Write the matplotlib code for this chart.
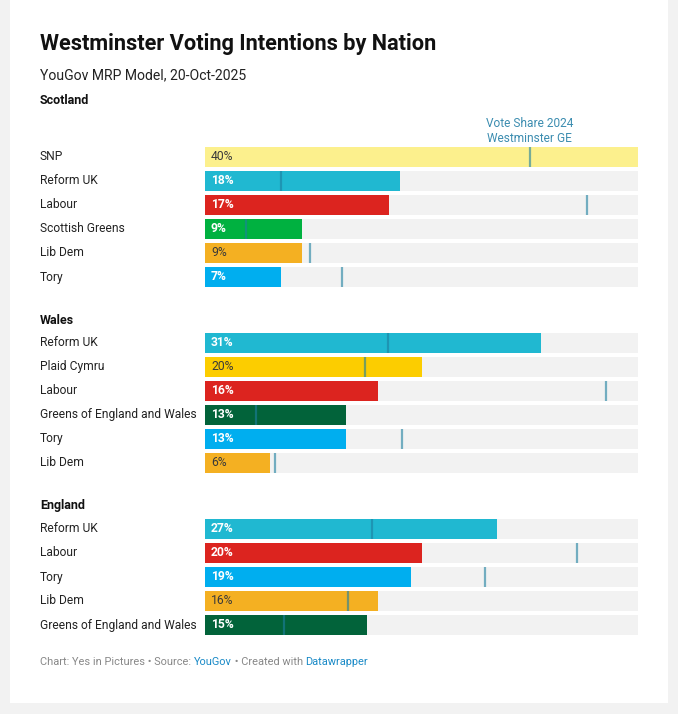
import matplotlib.pyplot as plt
from matplotlib.patches import Rectangle

plt.rcParams['font.family'] = ['Roboto', 'DejaVu Sans']

# ____________________________________________________________ DATA
scot_parties = ['SNP', 'Reform UK', 'Labour', 'Scottish Greens', 'Lib Dem', 'Tory']
scot_mrp = [40, 18, 17, 9, 9, 7]
scot_ge24 = [30.0, 7.0, 35.3, 3.8, 9.7, 12.7]

wales_parties = ['Reform UK', 'Plaid Cymru', 'Labour', 'Greens of England and Wales', 'Tory', 'Lib Dem']
wales_mrp = [31, 20, 16, 13, 13, 6]
wales_ge24 = [16.9, 14.8, 37.0, 4.7, 18.2, 6.5]

eng_parties = ['Reform UK', 'Labour', 'Tory', 'Lib Dem', 'Greens of England and Wales']
eng_mrp = [27, 20, 19, 16, 15]
eng_ge24 = [15.4, 34.4, 25.9, 13.2, 7.3]

cores = {
    'SNP': '#fcf08d',
    'Reform UK': '#20b8d1',
    'Labour': '#dc241f',
    'Scottish Greens': '#00b140',
    'Lib Dem': '#f4b022',
    'Tory': '#00aeef',
    'Plaid Cymru': '#fccd00',
    'Greens of England and Wales': '#02633a',
}
texto_escuro = ['SNP', 'Lib Dem', 'Plaid Cymru']

W, H = 678, 714
fig = plt.figure(figsize=(W / 100, H / 100), dpi=100)
fig.patch.set_facecolor('#f2f2f2')
fig.patches.append(Rectangle((10 / W, 1 - 703 / H), 658 / W, 703 / H,
                             transform=fig.transFigure, facecolor='white',
                             edgecolor='none', zorder=-10))


def fy(px):
    return 1 - px / H


fig.text(40 / W, fy(44), 'Westminster Voting Intentions by Nation',
         fontsize=15.7, fontweight='bold', va='center', ha='left', color='#111111')
fig.text(40 / W, fy(75), 'YouGov MRP Model, 20-Oct-2025',
         fontsize=10.1, va='center', ha='left', color='#222222')


def painel(partidos, mrp, ge24, titulo, y_titulo, y_primeira, legenda=False):
    n = len(partidos)
    topo = y_primeira - 12
    base = y_primeira + 24 * (n - 1) + 12
    ax = fig.add_axes([205 / W, fy(base), 433 / W, (base - topo) / H])
    ax.set_xlim(0, 40)
    ax.set_ylim(n - 0.5, -0.5)
    ax.axis('off')
    fig.text(40 / W, fy(y_titulo), titulo, fontsize=9, fontweight='bold',
             va='center', ha='left', color='#111111')
    for i, (p, v, g) in enumerate(zip(partidos, mrp, ge24)):
        ax.barh(i, 40, height=0.835, color='#f2f2f2', zorder=1)
        ax.barh(i, v, height=0.835, color=cores[p], zorder=2)
        ax.vlines(g, i - 0.43, i + 0.43, color='#1d7fa0', alpha=0.6,
                  linewidth=1.6, zorder=3)
        escuro = p in texto_escuro
        ax.text(0.55, i, f'{v}%', va='center', ha='left', fontsize=8.7,
                color='#3a3a3a' if escuro else 'white',
                fontweight='normal' if escuro else 'bold', zorder=4)
        ax.text(-165 / 433 * 40, i, p, va='center', ha='left', fontsize=8.65,
                color='#222222', clip_on=False)
    if legenda:
        ax.text(ge24[0], -0.52, 'Vote Share 2024\nWestminster GE', ha='center',
                va='bottom', fontsize=8.6, color='#3c8db0', linespacing=1.15)
    return ax


painel(scot_parties, scot_mrp, scot_ge24, 'Scotland', 101, 157, legenda=True)
painel(wales_parties, wales_mrp, wales_ge24, 'Wales', 320, 343)
painel(eng_parties, eng_mrp, eng_ge24, 'England', 506, 529)

# rodape
rodape = [('Chart: Yes in Pictures • Source: ', '#888888'), ('YouGov', '#1a8ac7'),
          (' • Created with ', '#888888'), ('Datawrapper', '#1a8ac7')]
x0 = 40 / W
renderer = fig.canvas.get_renderer()
for s, c in rodape:
    t = fig.text(x0, fy(662), s, fontsize=7.9, color=c, va='center', ha='left')
    bb = t.get_window_extent(renderer=renderer)
    x0 += bb.width / W

plt.savefig('out.png', dpi=100)
